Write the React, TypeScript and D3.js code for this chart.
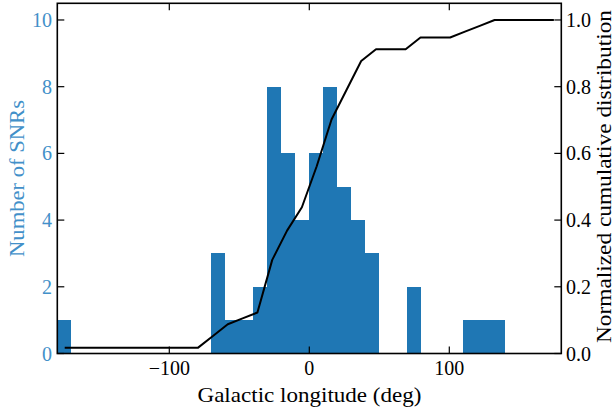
import React from "react";
import * as d3 from "d3";

// Histogram: bins of 10 deg from -180 to 180
const binStart = -180;
const binWidth = 10;
const binCounts = [
  1, 0, 0, 0, 0, 0, 0, 0, 0, 0, 0, 3, 1, 1, 2, 8, 6, 4, 6, 8, 5, 4, 3, 0, 0, 2,
  0, 0, 0, 1, 1, 1, 0, 0, 0, 0,
];

// Cumulative counts evaluated on 34 bins spanning [-180, 180]
const cumBinCount = 34;
const cumulativeCounts = [
  1, 1, 1, 1, 1, 1, 1, 1, 1, 1, 3, 5, 6, 7, 16, 21, 25, 32, 40, 45, 50, 52, 52,
  52, 54, 54, 54, 55, 56, 57, 57, 57, 57, 57,
];
const totalCount = 57;

const xTicks = [-100, 0, 100];
const yLeftTicks = [0, 2, 4, 6, 8, 10];
const yRightTicks = [0, 0.2, 0.4, 0.6, 0.8, 1.0];

const W = 616;
const H = 412;
const L = 57.3;
const R = 561.3;
const T = 3.3;
const B = 353.5;

const BLUE = "#1f77b4";
const LABEL_BLUE = "#4290c9";
const FONT = "'Liberation Serif', 'Times New Roman', serif";
const TICK_FS = 20;
const LABEL_FS = 22;

export default function App() {
  const x = d3.scaleLinear().domain([-180, 180]).range([L, R]);
  const yL = d3.scaleLinear().domain([0, 10.5]).range([B, T]);
  const yR = d3.scaleLinear().domain([0, 1.05]).range([B, T]);

  const bars = binCounts
    .map((c, k) => ({ x0: binStart + k * binWidth, x1: binStart + (k + 1) * binWidth, c }))
    .filter((d) => d.c > 0);

  const step = 360 / cumBinCount;
  const cumPts: [number, number][] = cumulativeCounts.map((c, i) => [
    -180 + (i + 0.5) * step,
    c / totalCount,
  ]);
  const line = d3
    .line<[number, number]>()
    .x((d) => x(d[0]))
    .y((d) => yR(d[1]));

  const tick = 7;
  const fmtR = d3.format(".1f");
  const fmtX = (v: number) => (v < 0 ? "\u2212" + Math.abs(v) : String(v));

  return (
    <div style={{ position: "absolute", left: 0, top: 0 }}>
      <svg width={W} height={H} style={{ display: "block", background: "#fff" }}>
        <g shapeRendering="crispEdges">
          {bars.map((d, i) => (
            <rect
              key={i}
              x={x(d.x0)}
              y={yL(d.c)}
              width={x(d.x1) - x(d.x0)}
              height={B - yL(d.c)}
              fill={BLUE}
            />
          ))}
        </g>
        <path d={line(cumPts) || ""} fill="none" stroke="#000" strokeWidth={2} strokeLinejoin="round" />

        {/* spines */}
        <rect x={L} y={T} width={R - L} height={B - T} fill="none" stroke="#000" strokeWidth={1.6} />

        {/* x ticks */}
        {xTicks.map((v) => (
          <g key={"x" + v}>
            <line x1={x(v)} x2={x(v)} y1={B} y2={B - tick} stroke="#000" strokeWidth={1.2} />
            <line x1={x(v)} x2={x(v)} y1={T} y2={T + tick} stroke="#000" strokeWidth={1.2} />
            <text x={x(v)} y={375} textAnchor="middle" fontFamily={FONT} fontSize={TICK_FS} fill="#000">
              {fmtX(v)}
            </text>
          </g>
        ))}
        {/* left ticks */}
        {yLeftTicks.map((v) => (
          <g key={"yl" + v}>
            <line x1={L} x2={L + tick} y1={yL(v)} y2={yL(v)} stroke="#000" strokeWidth={1.2} />
            <text
              x={52}
              y={yL(v)}
              dy="0.35em"
              textAnchor="end"
              fontFamily={FONT}
              fontSize={TICK_FS}
              fill={LABEL_BLUE}
            >
              {v}
            </text>
          </g>
        ))}
        {/* right ticks */}
        {yRightTicks.map((v) => (
          <g key={"yr" + v}>
            <line x1={R} x2={R - tick} y1={yR(v)} y2={yR(v)} stroke="#000" strokeWidth={1.2} />
            <text
              x={566}
              y={yR(v)}
              dy="0.35em"
              textAnchor="start"
              fontFamily={FONT}
              fontSize={TICK_FS}
              fill="#000"
            >
              {fmtR(v)}
            </text>
          </g>
        ))}

        <text
          x={309.5}
          y={401.5}
          textAnchor="middle"
          fontFamily={FONT}
          fontSize={LABEL_FS}
          textLength={224}
          lengthAdjust="spacingAndGlyphs"
          fill="#000"
        >
          Galactic longitude (deg)
        </text>
        <text
          transform={`translate(23.5,178.5) rotate(-90)`}
          textAnchor="middle"
          fontFamily={FONT}
          fontSize={LABEL_FS}
          textLength={157}
          lengthAdjust="spacingAndGlyphs"
          fill={LABEL_BLUE}
        >
          Number of SNRs
        </text>
        <text
          transform={`translate(611,176.5) rotate(-90)`}
          textAnchor="middle"
          fontFamily={FONT}
          fontSize={LABEL_FS}
          textLength={333}
          lengthAdjust="spacingAndGlyphs"
          fill="#000"
        >
          Normalized cumulative distribution
        </text>
      </svg>
    </div>
  );
}
